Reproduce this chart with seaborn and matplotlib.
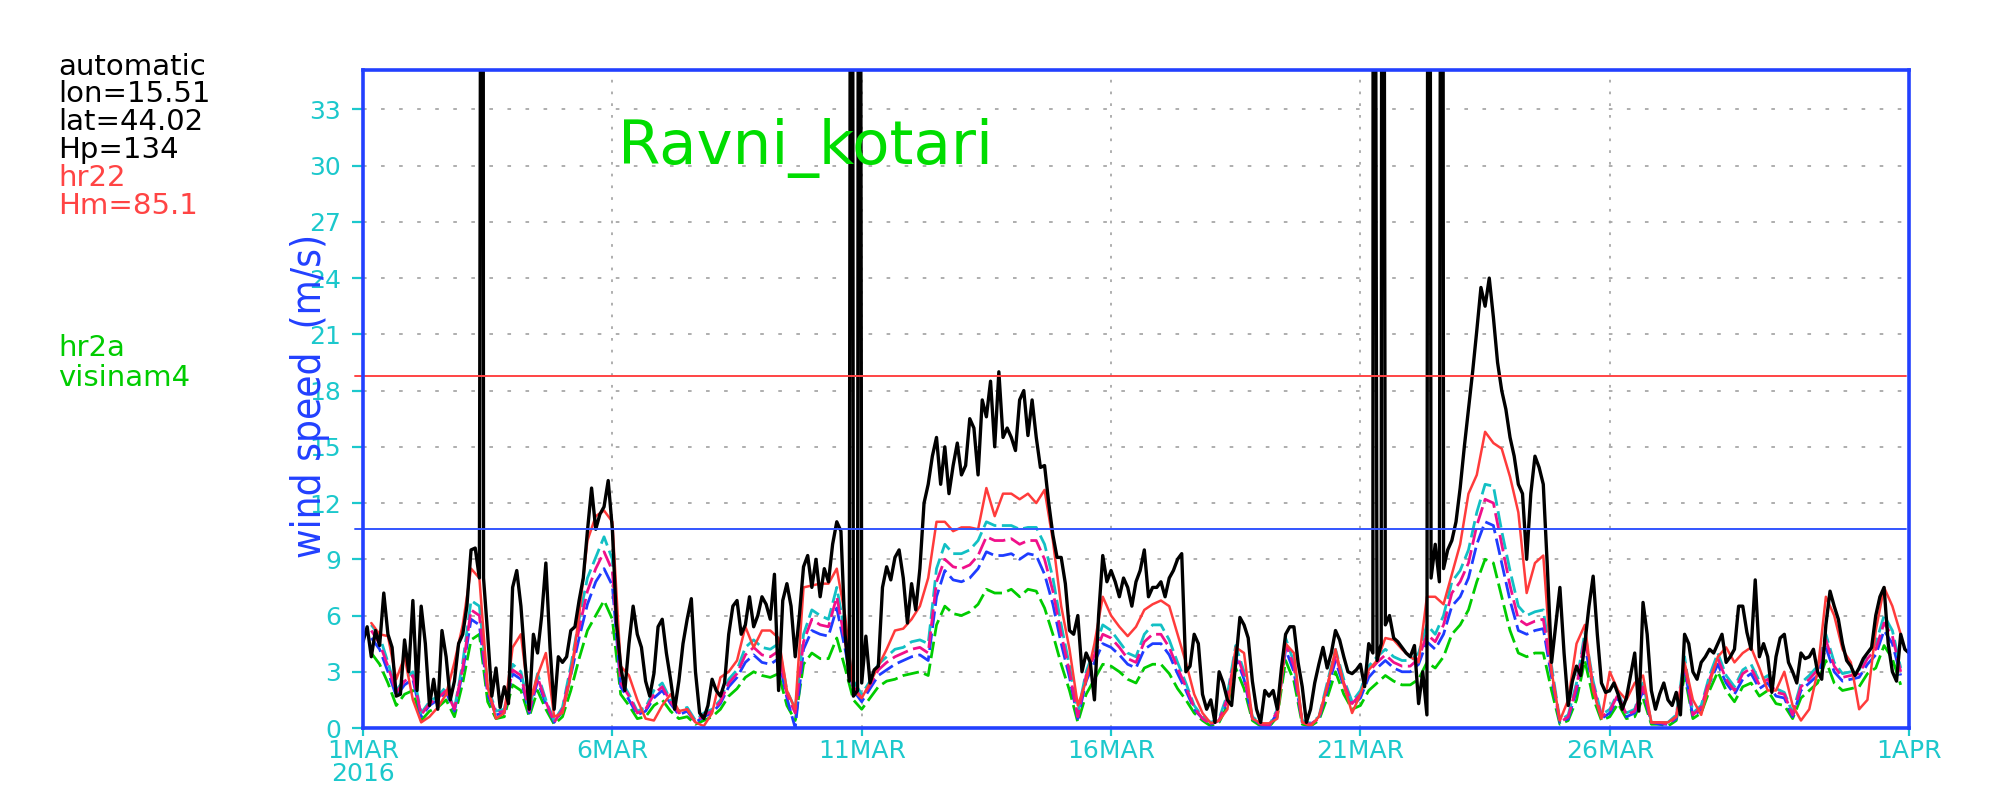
import numpy as np
import pandas as pd
import matplotlib
matplotlib.use("Agg")
import matplotlib.pyplot as plt
import seaborn as sns

nan = np.nan

# observed wind speed (m/s), every 2 h from 1 MAR 00h, one row per day, last value 1 APR 00h
obs_speed = [
    4.6, 5.4, 3.8, 5.2, 4.4, 7.2, 5.0, 4.3, 1.7, 1.8, 4.7, 3.0,
    6.8, 2.0, 6.5, 4.5, 1.2, 2.6, 1.0, 5.2, 3.8, 1.5, 2.5, 4.5,
    5.0, 6.5, 9.5, 9.6, 8.0, 8.0, 5.0, 1.7, 3.2, 1.1, 2.2, 1.3,
    7.5, 8.4, 6.5, 3.5, 1.0, 5.0, 4.0, 6.0, 8.8, 4.3, 1.0, 3.8,
    3.5, 3.8, 5.2, 5.4, 6.8, 8.0, 10.5, 12.8, 10.6, 11.4, 11.8, 13.2,
    10.6, 5.6, 3.3, 2.0, 4.5, 6.5, 5.0, 4.3, 2.5, 1.7, 2.9, 5.4,
    5.8, 4.0, 2.6, 1.0, 2.5, 4.5, 5.8, 6.9, 3.0, 0.8, 0.5, 1.2,
    2.6, 2.0, 1.7, 2.4, 5.0, 6.5, 6.8, 5.0, 5.5, 7.0, 5.4, 6.0,
    7.0, 6.6, 5.8, 8.2, 2.0, 6.8, 7.7, 6.5, 3.8, 6.0, 8.6, 9.2,
    7.5, 9.0, 7.0, 8.5, 7.8, 9.8, 11.0, 10.5, 5.0, 2.5, 1.7, 2.0,
    2.4, 4.9, 2.4, 3.1, 3.3, 7.5, 8.6, 7.9, 9.1, 9.5, 8.0, 5.6,
    7.7, 6.3, 8.5, 12.0, 13.0, 14.5, 15.5, 13.0, 15.0, 12.5, 14.0, 15.2,
    13.5, 14.0, 16.5, 16.0, 13.5, 17.5, 16.6, 18.5, 15.0, 19.0, 15.5, 16.0,
    15.5, 14.8, 17.5, 18.0, 15.6, 17.5, 15.5, 13.9, 14.0, 12.0, 10.3, 9.1,
    9.1, 7.7, 5.2, 5.0, 6.0, 3.0, 4.0, 3.5, 1.5, 6.0, 9.2, 7.8,
    8.4, 7.8, 7.0, 8.0, 7.5, 6.5, 7.8, 8.4, 9.5, 7.0, 7.5, 7.5,
    7.8, 7.0, 8.0, 8.4, 9.0, 9.3, 3.0, 3.3, 5.0, 4.5, 1.8, 1.0,
    1.5, 0.3, 3.0, 2.4, 1.5, 1.2, 3.5, 5.9, 5.5, 4.8, 2.5, 1.0,
    0.3, 2.0, 1.7, 2.0, 1.0, 3.2, 5.0, 5.4, 5.4, 3.5, 2.2, 0.3,
    1.0, 2.4, 3.4, 4.3, 3.2, 4.0, 5.2, 4.7, 3.8, 3.0, 2.9, 3.1,
    3.4, 2.2, 4.5, 4.0, 3.6, 4.5, 5.5, 6.0, 4.8, 4.6, 4.3, 4.0,
    3.8, 4.4, 1.3, 3.0, 0.7, 8.0, 9.8, 7.8, 8.5, 9.5, 10.0, 11.0,
    12.8, 15.0, 17.0, 19.0, 21.2, 23.5, 22.5, 24.0, 21.9, 19.5, 18.0, 17.0,
    15.5, 14.5, 13.0, 12.5, 9.0, 12.5, 14.5, 13.9, 13.0, 8.5, 3.5, 5.5,
    7.5, 4.0, 1.2, 2.5, 3.3, 2.8, 4.5, 6.5, 8.1, 5.0, 2.4, 1.9,
    2.0, 2.4, 1.8, 1.0, 1.6, 2.8, 4.0, 0.9, 6.7, 5.0, 2.0, 1.0,
    1.8, 2.4, 1.5, 1.2, 1.9, 0.7, 5.0, 4.5, 3.0, 2.6, 3.5, 3.8,
    4.2, 4.0, 4.5, 5.0, 3.5, 3.8, 4.2, 6.5, 6.5, 5.1, 4.2, 7.9,
    3.8, 4.5, 3.8, 1.9, 3.8, 4.8, 5.0, 3.5, 3.0, 2.4, 4.0, 3.7,
    3.8, 4.2, 3.0, 2.6, 5.5, 7.3, 6.5, 5.8, 4.5, 3.6, 3.3, 2.8,
    3.2, 3.7, 4.0, 4.3, 6.0, 7.0, 7.5, 4.5, 3.0, 2.5, 5.0, 4.2,
    4.0,
]
# bad observations that shoot off the top of the plot (days after 1 MAR 00h)
spike_days = [2.40, 9.80, 9.95, 20.26, 20.44, 21.37, 21.64]
spike_speed = 99.0

# model wind speed, every 4 h from 1 MAR 00h, one row per day
hr22 = [
    nan, 5.6, 5.0, 4.9, 2.6, 3.8,
    1.5, 0.3, 0.6, 1.1, 1.8, 3.5,
    5.5, 8.5, 8.0, 2.2, 0.5, 0.8,
    4.3, 5.0, 1.3, 2.8, 4.0, 0.6,
    0.8, 2.8, 6.0, 10.0, 11.3, 11.6,
    11.0, 3.3, 2.8, 1.5, 0.5, 0.4,
    1.2, 1.8, 0.9, 1.0, 0.3, 0.1,
    0.8, 2.7, 3.0, 3.6, 5.4, 4.3,
    5.2, 5.2, 4.8, 2.0, 1.0, 7.5,
    7.6, 7.7, 7.7, 8.5, 6.0, 2.0,
    1.6, 2.4, 3.3, 4.2, 5.2, 5.3,
    5.8, 6.5, 8.0, 11.0, 11.0, 10.5,
    10.7, 10.7, 10.6, 12.8, 11.3, 12.5,
    12.5, 12.2, 12.5, 12.0, 12.7, 10.0,
    6.5, 4.2, 1.2, 2.5, 4.5, 7.0,
    6.0, 5.4, 4.9, 5.4, 6.3, 6.6,
    6.8, 6.5, 5.0, 3.5, 1.8, 0.8,
    0.25, 0.4, 1.0, 4.3, 4.0, 0.5,
    0.25, 0.25, 0.5, 4.5, 4.0, 0.3,
    0.1, 0.6, 2.2, 4.2, 2.3, 0.8,
    1.8, 3.1, 3.6, 4.8, 4.7, 4.2,
    3.8, 3.5, 7.0, 7.0, 6.6, 8.2,
    9.8, 12.5, 13.5, 15.8, 15.2, 14.9,
    13.4, 11.5, 7.2, 8.8, 9.2, 3.0,
    0.4, 1.5, 4.5, 5.5, 2.0, 0.5,
    3.0, 2.0, 1.5, 2.4, 2.8, 0.3,
    0.3, 0.3, 0.6, 3.5, 1.5, 0.7,
    2.4, 3.8, 4.3, 3.5, 4.0, 4.3,
    3.2, 2.0, 2.0, 3.0, 1.2, 0.4,
    1.0, 3.0, 7.0, 6.0, 4.2, 3.5,
    1.0, 1.5, 5.2, 7.5, 6.5, 5.0,
]
cyan_model = [
    nan, 5.5, 4.9, 3.5, 2.0, 2.6,
    3.0, 0.8, 1.4, 1.7, 2.2, 1.0,
    3.5, 6.8, 6.5, 2.2, 0.9, 1.0,
    3.4, 3.0, 1.0, 2.9, 1.5, 0.4,
    1.1, 3.3, 5.8, 8.0, 9.1, 10.2,
    9.0, 2.6, 1.8, 0.9, 1.1, 2.0,
    2.4, 1.5, 0.9, 1.1, 0.4, 0.8,
    1.0, 1.5, 2.6, 3.1, 4.3, 4.7,
    4.3, 4.2, 4.5, 2.0, 1.0, 5.0,
    6.3, 6.0, 5.8, 7.5, 5.0, 2.5,
    1.8, 2.5, 3.4, 3.8, 4.2, 4.3,
    4.6, 4.7, 4.5, 8.5, 9.8, 9.3,
    9.3, 9.5, 10.0, 11.0, 10.8, 10.8,
    10.8, 10.6, 10.7, 10.7, 9.8, 8.0,
    5.5, 3.3, 0.8, 3.0, 4.2, 5.5,
    5.2, 4.6, 4.0, 3.8, 5.0, 5.5,
    5.5, 4.7, 3.5, 2.4, 1.2, 0.6,
    0.3, 0.5, 1.8, 4.4, 3.0, 0.6,
    0.25, 0.1, 1.0, 4.8, 3.5, 0.4,
    0.25, 0.6, 2.4, 4.2, 2.6, 1.4,
    2.0, 3.3, 3.8, 4.2, 3.8, 3.6,
    3.6, 4.0, 5.5, 5.0, 6.0, 7.8,
    8.4, 9.5, 11.5, 13.0, 12.9, 10.5,
    8.4, 6.5, 6.0, 6.2, 6.3, 3.3,
    0.4, 0.7, 2.4, 5.1, 2.5, 0.7,
    1.0, 1.9, 0.8, 1.0, 2.4, 0.3,
    0.3, 0.3, 0.7, 3.8, 0.8, 1.2,
    2.8, 4.0, 2.8, 2.2, 3.1, 3.4,
    2.5, 2.8, 2.1, 1.9, 0.8, 2.4,
    2.8, 3.3, 5.0, 3.5, 2.9, 3.0,
    3.1, 4.0, 4.5, 6.0, 5.2, 3.2,
]
magenta_model = [
    nan, 5.2, 4.5, 3.3, 1.9, 2.5,
    2.8, 0.7, 1.3, 1.6, 2.0, 1.0,
    3.2, 6.3, 6.0, 2.0, 0.8, 0.9,
    3.1, 2.8, 0.9, 2.7, 1.4, 0.3,
    1.0, 3.0, 5.3, 7.3, 8.5, 9.4,
    8.4, 2.4, 1.7, 0.8, 1.0, 1.8,
    2.2, 1.4, 0.8, 1.0, 0.3, 0.7,
    0.9, 1.4, 2.4, 2.9, 3.9, 4.3,
    3.9, 3.8, 4.1, 1.8, 0.8, 4.6,
    5.8, 5.5, 5.4, 7.0, 4.6, 2.2,
    1.6, 2.3, 3.1, 3.5, 3.8, 4.0,
    4.2, 4.3, 4.0, 7.8, 9.0, 8.6,
    8.5, 8.7, 9.2, 10.2, 10.0, 10.0,
    10.1, 9.8, 10.0, 10.0, 9.0, 7.3,
    5.0, 3.0, 0.6, 2.8, 3.9, 5.0,
    4.8, 4.3, 3.7, 3.5, 4.6, 5.0,
    5.0, 4.3, 3.2, 2.2, 1.1, 0.5,
    0.2, 0.4, 1.6, 4.1, 2.8, 0.5,
    0.2, 0.1, 0.9, 4.5, 3.3, 0.3,
    0.2, 0.5, 2.2, 3.9, 2.4, 1.3,
    1.8, 3.0, 3.5, 3.9, 3.5, 3.3,
    3.3, 3.7, 5.0, 4.6, 5.5, 7.2,
    7.8, 8.8, 10.8, 12.2, 12.0, 9.8,
    7.6, 5.8, 5.5, 5.7, 5.8, 3.0,
    0.3, 0.6, 2.2, 4.8, 2.3, 0.6,
    0.9, 1.8, 0.7, 0.9, 2.2, 0.3,
    0.3, 0.2, 0.6, 3.5, 0.7, 1.1,
    2.6, 3.7, 2.6, 2.0, 2.9, 3.2,
    2.3, 2.6, 1.9, 1.8, 0.7, 2.2,
    2.6, 3.1, 4.7, 3.3, 2.7, 2.8,
    2.9, 3.7, 4.2, 5.6, 4.9, 3.0,
]
blue_model = [
    nan, 4.8, 4.2, 3.0, 1.7, 2.3,
    2.6, 0.6, 1.2, 1.5, 1.9, 0.9,
    3.0, 5.8, 5.5, 1.8, 0.7, 0.8,
    2.9, 2.6, 0.8, 2.5, 1.3, 0.3,
    0.9, 2.8, 4.8, 6.6, 7.8, 8.5,
    7.6, 2.2, 1.5, 0.7, 0.9, 1.6,
    2.0, 1.3, 0.7, 0.9, 0.3, 0.6,
    0.8, 1.3, 2.2, 2.7, 3.5, 3.9,
    3.5, 3.4, 3.7, 1.6, 0.0, 4.2,
    5.2, 5.0, 4.9, 6.4, 4.2, 2.0,
    1.4, 2.1, 2.8, 3.1, 3.4, 3.6,
    3.8, 3.9, 3.6, 7.0, 8.4, 7.9,
    7.8, 8.0, 8.5, 9.4, 9.2, 9.2,
    9.3, 9.0, 9.3, 9.2, 8.2, 6.6,
    4.5, 2.7, 0.5, 2.5, 3.5, 4.5,
    4.3, 3.9, 3.4, 3.2, 4.2, 4.5,
    4.5, 3.9, 2.9, 2.0, 1.0, 0.5,
    0.2, 0.4, 1.5, 3.8, 2.6, 0.5,
    0.2, 0.1, 0.8, 4.2, 3.0, 0.3,
    0.2, 0.5, 2.0, 3.6, 2.2, 1.2,
    1.6, 2.7, 3.2, 3.6, 3.2, 3.0,
    3.0, 3.4, 4.6, 4.2, 5.0, 6.5,
    7.0, 8.0, 9.8, 11.0, 10.8, 8.8,
    6.8, 5.2, 5.0, 5.2, 5.3, 2.7,
    0.3, 0.5, 2.0, 4.4, 2.1, 0.5,
    0.8, 1.6, 0.6, 0.8, 2.0, 0.3,
    0.2, 0.2, 0.5, 3.2, 0.6, 1.0,
    2.4, 3.4, 2.4, 1.8, 2.6, 2.9,
    2.1, 2.4, 1.7, 1.6, 0.6, 2.0,
    2.4, 2.8, 4.3, 3.0, 2.5, 2.6,
    2.7, 3.4, 3.9, 5.2, 4.5, 2.8,
]
hr2a = [
    nan, 4.0, 3.4, 2.4, 1.2, 1.8,
    2.0, 0.4, 0.9, 1.1, 1.5, 0.6,
    2.4, 4.7, 5.0, 1.4, 0.5, 0.6,
    2.3, 2.0, 0.6, 2.0, 1.0, 0.2,
    0.6, 2.0, 3.7, 5.2, 6.0, 6.8,
    5.8, 1.8, 1.2, 0.5, 0.6, 1.2,
    1.5, 0.9, 0.5, 0.6, 0.2, 0.4,
    0.6, 1.0, 1.7, 2.1, 2.7, 3.0,
    2.8, 2.7, 2.9, 1.2, 0.4, 3.4,
    4.0, 3.7, 3.7, 4.8, 3.2, 1.5,
    1.0, 1.6, 2.2, 2.5, 2.6, 2.8,
    2.9, 3.0, 2.8, 5.5, 6.5, 6.1,
    6.0, 6.2, 6.6, 7.4, 7.2, 7.2,
    7.4, 7.0, 7.4, 7.3, 6.4, 5.0,
    3.4, 2.0, 0.3, 1.8, 2.6, 3.4,
    3.3, 3.0, 2.6, 2.4, 3.2, 3.4,
    3.4, 2.9, 2.1, 1.5, 0.8, 0.4,
    0.1, 0.3, 1.2, 3.2, 2.1, 0.4,
    0.1, 0.05, 0.6, 3.6, 2.5, 0.2,
    0.1, 0.4, 1.6, 3.0, 1.8, 1.0,
    1.2, 2.0, 2.4, 2.8, 2.5, 2.3,
    2.3, 2.6, 3.5, 3.2, 3.8, 5.0,
    5.5, 6.3, 7.8, 9.0, 8.8, 7.0,
    5.2, 4.0, 3.8, 4.0, 4.0, 2.0,
    0.2, 0.4, 1.5, 3.6, 1.6, 0.4,
    0.6, 1.3, 0.5, 0.6, 1.6, 0.2,
    0.2, 0.1, 0.4, 2.8, 0.5, 0.8,
    2.0, 3.0, 2.0, 1.4, 2.2, 2.4,
    1.7, 2.0, 1.3, 1.2, 0.5, 1.6,
    2.0, 2.4, 3.6, 2.4, 2.0, 2.1,
    2.2, 2.9, 3.2, 4.4, 3.7, 2.3,
]

# threshold lines
red_level = 18.8
blue_level = 10.6

y_ticks = list(range(0, 34, 3))
x_tick_days = [0, 5, 10, 15, 20, 25, 31]
x_tick_labels = ['1MAR\n2016', '6MAR', '11MAR', '16MAR', '21MAR', '26MAR', '1APR']

info_black = ['automatic', 'lon=15.51', 'lat=44.02', 'Hp=134']
info_red = ['hr22', 'Hm=85.1']
info_green = ['hr2a', 'visinam4']

FRAME = '#2240ff'
CYAN_TXT = '#1cc8cc'

obs = pd.DataFrame({
    'day': np.r_[np.arange(len(obs_speed)) / 12.0, spike_days],
    'speed': np.r_[obs_speed, [spike_speed] * len(spike_days)],
})
models = pd.DataFrame({
    'day': np.arange(len(hr22)) / 6.0,
    'hr22': hr22, 'cyan': cyan_model, 'magenta': magenta_model,
    'blue': blue_model, 'hr2a': hr2a,
})

sns.set_style("white")
plt.rcParams['font.family'] = ['DejaVu Sans']

fig = plt.figure(figsize=(20, 8), dpi=100)
ax = fig.add_axes([0.1815, 0.09, 0.773, 0.8225])

ax.yaxis.grid(True, color='#a8a8a8', linestyle=(0, (2, 8)), lw=1.3)
ax.xaxis.grid(True, color='#a8a8a8', linestyle=(0, (1.5, 5)), lw=1.3)

dash = (0, (6, 2))
for col, colr, ls, lw in [('hr2a', '#00cc00', dash, 2.0),
                          ('blue', '#1e3cff', dash, 2.0),
                          ('cyan', '#12c0c4', dash, 2.0),
                          ('magenta', '#f0108a', dash, 2.0),
                          ('hr22', '#ff3b3b', '-', 1.8)]:
    sns.lineplot(data=models, x='day', y=col, ax=ax, color=colr, lw=lw,
                 linestyle=ls, estimator=None, errorbar=None)

sns.lineplot(data=obs, x='day', y='speed', ax=ax, color='black', lw=2.4,
             estimator=None, errorbar=None, sort=True)

ax.axhline(red_level, xmin=-0.005, xmax=0.998, color='#ff4444', lw=1.4, clip_on=False)
ax.axhline(blue_level, xmin=-0.005, xmax=0.998, color='#3355ff', lw=1.4, clip_on=False)

ax.set_xlim(0, 31)
ax.set_ylim(0, 35.1)
ax.set_yticks(y_ticks)
ax.set_xticks(x_tick_days)
ax.set_xticklabels(x_tick_labels)
ax.set_xlabel('')
ax.set_ylabel('')
ax.tick_params(axis='both', colors=CYAN_TXT, labelsize=18, direction='out',
               width=1.6, left=True, bottom=True)
ax.tick_params(axis='y', length=8, pad=8)
ax.tick_params(axis='x', length=6, pad=2)
for lbl in ax.get_xticklabels():
    lbl.set_linespacing(0.95)

for s in ax.spines.values():
    s.set_color(FRAME)
    s.set_linewidth(2.6)

fig.text(0.155, 0.505, 'wind speed  (m/s)', rotation=90, ha='center', va='center',
         color=FRAME, fontsize=29, fontstretch='condensed')
fig.text(0.4025, 0.815, 'Ravni_kotari', ha='center', va='center',
         color='#00dd00', fontsize=44)

ys = [0.916, 0.883, 0.848, 0.813, 0.778, 0.743]
for txt, y in zip(info_black + info_red, ys):
    c = 'black' if txt in info_black else '#ff4444'
    fig.text(0.029, y, txt, ha='left', va='center', color=c, fontsize=21)
for txt, y in zip(info_green, [0.565, 0.528]):
    fig.text(0.029, y, txt, ha='left', va='center', color='#00cc00', fontsize=21)

fig.savefig('out.png', dpi=100)
